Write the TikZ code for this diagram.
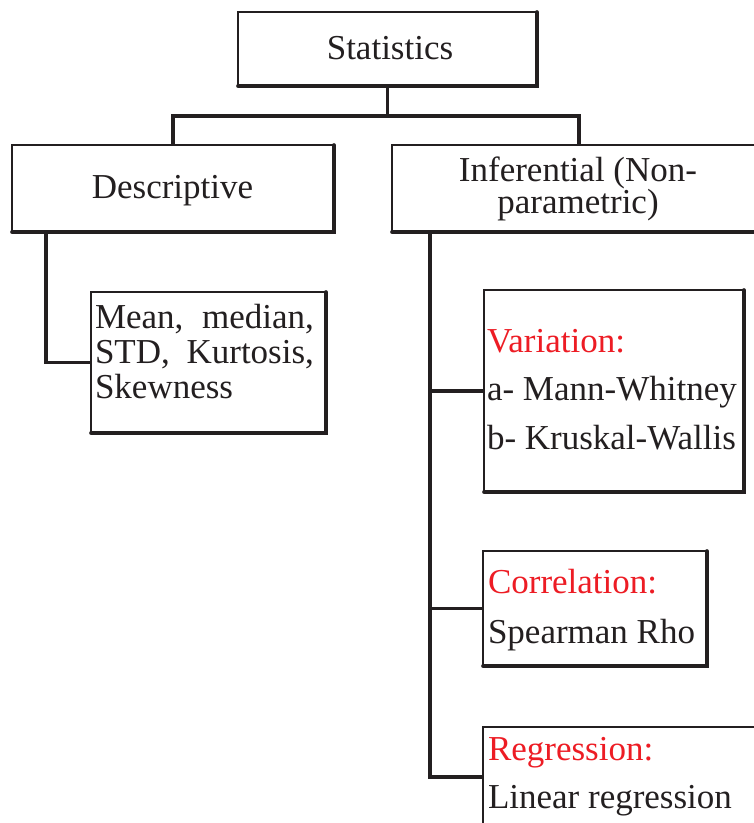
\documentclass[tikz,border=0pt]{standalone}
\usepackage{fontspec}
\setmainfont{Liberation Serif}
\usetikzlibrary{calc}
\definecolor{ink}{HTML}{231F20}
\definecolor{redtxt}{HTML}{ED1C24}
\tikzset{
  box/.style={draw=ink, line width=1.4pt, inner sep=0pt, outer sep=0pt, fill=white},
  shade/.style={draw=ink, line width=3.6pt, line cap=round},
  conn/.style={draw=ink, line width=3.8pt},
  txt/.style={inner sep=0pt, outer sep=0pt, text=ink, font=\fontsize{35}{40}\selectfont},
  red/.style={txt, text=redtxt}
}
\begin{document}
\begin{tikzpicture}[x=1pt,y=-1pt]
\clip (0,0) rectangle (754,823);
\fill[white] (0,0) rectangle (754,823);
% boxes
\node[box, minimum width=299pt, minimum height=74pt] (stat) at (387.5,49) {};
\node[box, minimum width=322pt, minimum height=87pt] (desc) at (173,188.5) {};
\node[box, minimum width=374pt, minimum height=87pt] (inf) at (579,188.5) {};
\node[box, minimum width=235pt, minimum height=141pt] (mean) at (208.5,362.5) {};
\node[box, minimum width=260pt, minimum height=202pt] (var) at (614,391) {};
\node[box, minimum width=224pt, minimum height=115pt] (cor) at (595,608.5) {};
\node[box, minimum width=306pt, minimum height=132pt] (reg) at (636,793) {};
% thick right/bottom edges
\foreach \n in {stat,desc,inf,mean,var,cor,reg}{
  \draw[shade] (\n.north east) -- (\n.south east) -- (\n.south west);
}
% connectors
\coordinate (j) at ($(stat.south)+(0,30)$);
\draw[conn] (stat.south) -- (j);
\draw[conn] (desc.north) |- (j) -| (inf.north);
\coordinate (dl) at ($(desc.south west)+(34,0)$);
\draw[conn] (dl) |- (mean.west);
\coordinate (il) at ($(inf.south west)+(38,0)$);
\coordinate (rl) at ($(reg.north west)+(0,50)$);
\draw[conn] (il) |- (rl);
\draw[conn] (il) |- (var.west);
\draw[conn] (il) |- (cor.west);
% texts
\node[txt, anchor=base] (tstat) at (390,59) {Statistics};
\node[txt, anchor=base] (tdesc) at (172.5,198) {Descriptive};
\node[txt, anchor=base] (tinf1) at (578,181) {Inferential (Non-};
\node[txt, anchor=base] (tinf2) at (578,213) {parametric)};
\node[txt, anchor=base west] (tm1) at (95,328) {\hbox to 219pt{Mean,\hfill median,}};
\node[txt, anchor=base west] (tm2) at (95,363) {\hbox to 219pt{STD,\hfill Kurtosis,}};
\node[txt, anchor=base west] (tm3) at (95,398) {Skewness};
\node[red, anchor=base west] (tv1) at (487,352) {Variation:};
\node[txt, anchor=base west] (tv2) at (487,400) {a- Mann-Whitney};
\node[txt, anchor=base west] (tv3) at (487,449) {b- Kruskal-Wallis};
\node[red, anchor=base west] (tc1) at (488,593) {Correlation:};
\node[txt, anchor=base west] (tc2) at (488,643) {Spearman Rho};
\node[red, anchor=base west] (tr1) at (488,760) {Regression:};
\node[txt, anchor=base west] (tr2) at (488,808) {Linear regression};
\end{tikzpicture}
\end{document}
